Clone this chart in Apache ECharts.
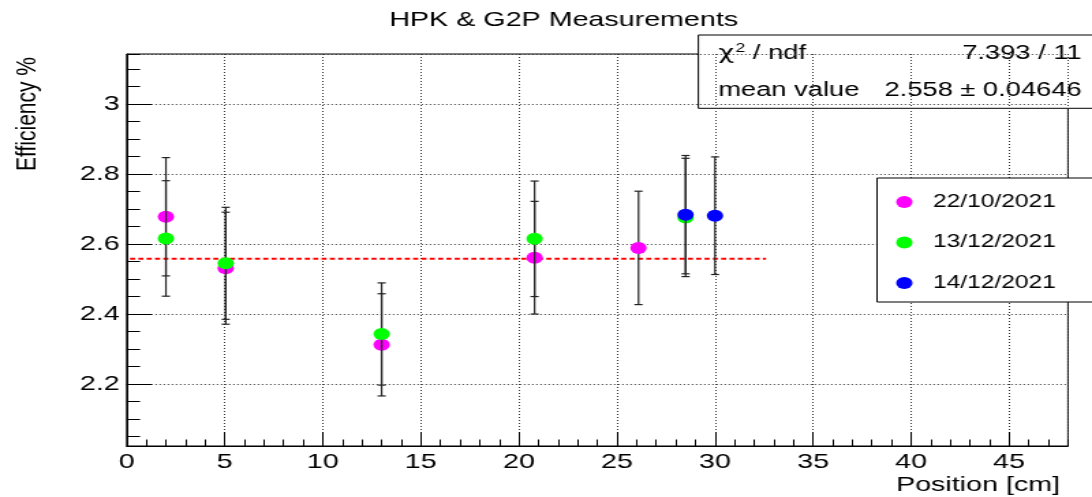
<!DOCTYPE html>
<html><head><meta charset="utf-8">
<script src="https://cdn.jsdelivr.net/npm/echarts@6/dist/echarts.min.js"></script>
<style>
html,body{margin:0;padding:0;background:#fff;overflow:hidden;width:1092px;height:497px}
#chart{width:800px;height:497px;transform:scaleX(1.365);transform-origin:0 0}
</style></head><body><div id="chart"></div>
<script>
// ---- data ----
const seriesNames = ['22/10/2021', '13/12/2021', '14/12/2021'];
const seriesColors = ['#ff00ff', '#00ff00', '#0000ff'];
const x1 = [2.0, 5.05, 13.0, 20.8, 26.1];
const y1 = [2.678, 2.531, 2.312, 2.561, 2.589];
const e1 = [0.169, 0.160, 0.146, 0.161, 0.162];
const x2 = [2.0, 5.05, 13.0, 20.8, 28.5];
const y2 = [2.616, 2.545, 2.343, 2.615, 2.676];
const e2 = [0.165, 0.160, 0.146, 0.165, 0.169];
const x3 = [28.5, 30.0];
const y3 = [2.684, 2.681];
const e3 = [0.169, 0.168];
const fitX = [0.17, 32.6];
const meanValue = 2.558;
const meanError = '0.04646';
const chi2 = '7.393';
const ndf = '11';
const xRange = [0, 48];
const yRange = [2.023, 3.143];
const xMajor = 5, xMinor = 1;
const yMajor = 0.2, yMinor = 0.05;
const titleText = 'HPK & G2P Measurements';
const xTitle = 'Position [cm]';
const yTitle = 'Efficiency %';

const FONT = '"Liberation Sans", Arial, Helvetica, sans-serif';
const chart = echarts.init(document.getElementById('chart'));

function pts(xs, ys) { return xs.map((x, i) => [x, ys[i]]); }
function errs(xs, ys, es) { return xs.map((x, i) => [x, ys[i], es[i]]); }

function errRender(params, api) {
  const x = api.value(0), y = api.value(1), e = api.value(2);
  const top = api.coord([x, y + e]);
  const bot = api.coord([x, y - e]);
  const cw = 3;
  const style = { stroke: '#222', lineWidth: 1.2, fill: null };
  return {
    type: 'group',
    children: [
      { type: 'line', shape: { x1: top[0], y1: top[1], x2: bot[0], y2: bot[1] }, style: style },
      { type: 'line', shape: { x1: top[0] - cw, y1: top[1], x2: top[0] + cw, y2: top[1] }, style: style },
      { type: 'line', shape: { x1: bot[0] - cw, y1: bot[1], x2: bot[0] + cw, y2: bot[1] }, style: style }
    ]
  };
}

const groups = [[x1, y1, e1], [x2, y2, e2], [x3, y3, e3]];
const series = [];
series.push({
  name: 'fit', type: 'line', data: fitX.map(x => [x, meanValue]),
  showSymbol: false, symbol: 'none', silent: true, z: 1,
  lineStyle: { color: '#ff0000', width: 2, type: [3.7, 2.4] }
});
groups.forEach((g, i) => {
  series.push({
    name: 'err' + i, type: 'custom', renderItem: errRender,
    data: errs(g[0], g[1], g[2]), encode: { x: 0, y: 1 },
    xAxisIndex: 0, yAxisIndex: 0, silent: true, z: 2 + i * 2
  });
  series.push({
    name: seriesNames[i], type: 'scatter', data: pts(g[0], g[1]),
    xAxisIndex: 0, yAxisIndex: 0,
    symbol: 'circle', symbolSize: 12, z: 3 + i * 2,
    itemStyle: { color: seriesColors[i], opacity: 1 }
  });
});

const option = {
  backgroundColor: '#fff',
  animation: false,
  title: {
    text: titleText, left: 413, top: 10, textAlign: 'center', padding: 0,
    textStyle: { fontSize: 21, fontWeight: 'normal', color: '#000', fontFamily: FONT, lineHeight: 21 }
  },
  grid: {
    left: 92.8, right: 17.6, top: 54, bottom: 51,
    show: true, borderColor: '#000', borderWidth: 1, backgroundColor: 'transparent',
    containLabel: false, outerBoundsMode: 'none'
  },
  legend: {
    orient: 'vertical', left: 642.5, top: 178,
    padding: [15, 40, 10, 14],
    itemGap: 22.5, itemWidth: 28, itemHeight: 12,
    backgroundColor: '#fff', borderColor: '#000', borderWidth: 1, borderRadius: 0,
    textStyle: { fontSize: 18, lineHeight: 18, color: '#000', fontFamily: FONT, padding: [0, 0, 0, 2] },
    data: seriesNames, selectedMode: false, icon: 'circle', z: 50
  },
  xAxis: [{
    type: 'value', min: xRange[0], max: xRange[1], interval: xMajor, position: 'bottom',
    axisLine: { show: true, onZero: false, lineStyle: { color: '#000', width: 1 } },
    axisTick: { show: true, inside: true, length: 14, lineStyle: { color: '#000', width: 1 } },
    axisLabel: { show: true, fontSize: 21, color: '#000', margin: 6, showMaxLabel: false, fontFamily: FONT },
    splitLine: { show: true, lineStyle: { color: '#333', type: [1, 2], width: 1 } }
  }, {
    type: 'value', min: xRange[0], max: xRange[1], interval: xMinor, position: 'bottom',
    axisLine: { show: false, onZero: false },
    axisTick: { show: true, inside: true, length: 6.5, lineStyle: { color: '#000', width: 1 } },
    axisLabel: { show: false }, splitLine: { show: false }
  }],
  yAxis: [{
    type: 'value', min: yRange[0], max: yRange[1], splitNumber: 5,
    minInterval: yMajor, maxInterval: yMajor, position: 'left',
    axisLine: { show: true, onZero: false, lineStyle: { color: '#000', width: 1 } },
    axisTick: { show: true, inside: true, length: 18.3, lineStyle: { color: '#000', width: 1 } },
    axisLabel: { show: true, fontSize: 21, color: '#000', margin: 5, showMinLabel: false, showMaxLabel: false, fontFamily: FONT },
    splitLine: { show: true, lineStyle: { color: '#333', type: [1, 2], width: 1 } }
  }, {
    type: 'value', min: yRange[0], max: yRange[1], splitNumber: 22,
    minInterval: yMinor, maxInterval: yMinor, position: 'left',
    axisLine: { show: false, onZero: false },
    axisTick: { show: true, inside: true, length: 9.8, lineStyle: { color: '#000', width: 1 } },
    axisLabel: { show: false }, splitLine: { show: false }
  }],
  graphic: [
    {
      type: 'text', x: 20.7, y: 114, rotation: Math.PI / 2, z: 100,
      style: { text: yTitle, fontSize: 21, fontFamily: FONT, fill: '#000', align: 'center', verticalAlign: 'middle' }
    },
    {
      type: 'text', x: 776.6, y: 485, z: 100,
      style: { text: xTitle, fontSize: 21, fontFamily: FONT, fill: '#000', align: 'right', verticalAlign: 'middle' }
    },
    {
      type: 'group', z: 100,
      children: [
        { type: 'rect', shape: { x: 511.6, y: 35, width: 300, height: 73.3 },
          style: { fill: '#fff', stroke: '#000', lineWidth: 1 } },
        { type: 'text', x: 526.2, y: 53.3,
          style: { text: '{c|χ}{s|2} / ndf', fontSize: 20, fontFamily: FONT, fill: '#000', align: 'left', verticalAlign: 'middle',
            rich: {
              c: { fontFamily: '"DejaVu Sans", sans-serif', fontSize: 20, fill: '#000' },
              s: { fontFamily: FONT, fontSize: 13, fill: '#000', padding: [0, 0, 9, 1] }
            } } },
        { type: 'text', x: 792.4, y: 53.3,
          style: { text: chi2 + ' / ' + ndf, fontSize: 20, fontFamily: FONT, fill: '#000', align: 'right', verticalAlign: 'middle' } },
        { type: 'text', x: 526.2, y: 90,
          style: { text: 'mean value', fontSize: 20, fontFamily: FONT, fill: '#000', align: 'left', verticalAlign: 'middle' } },
        { type: 'text', x: 792.4, y: 90,
          style: { text: meanValue.toFixed(3) + ' ± ' + meanError, fontSize: 20, fontFamily: FONT, fill: '#000', align: 'right', verticalAlign: 'middle' } }
      ]
    }
  ],
  series: series
};
chart.setOption(option);
</script></body></html>
